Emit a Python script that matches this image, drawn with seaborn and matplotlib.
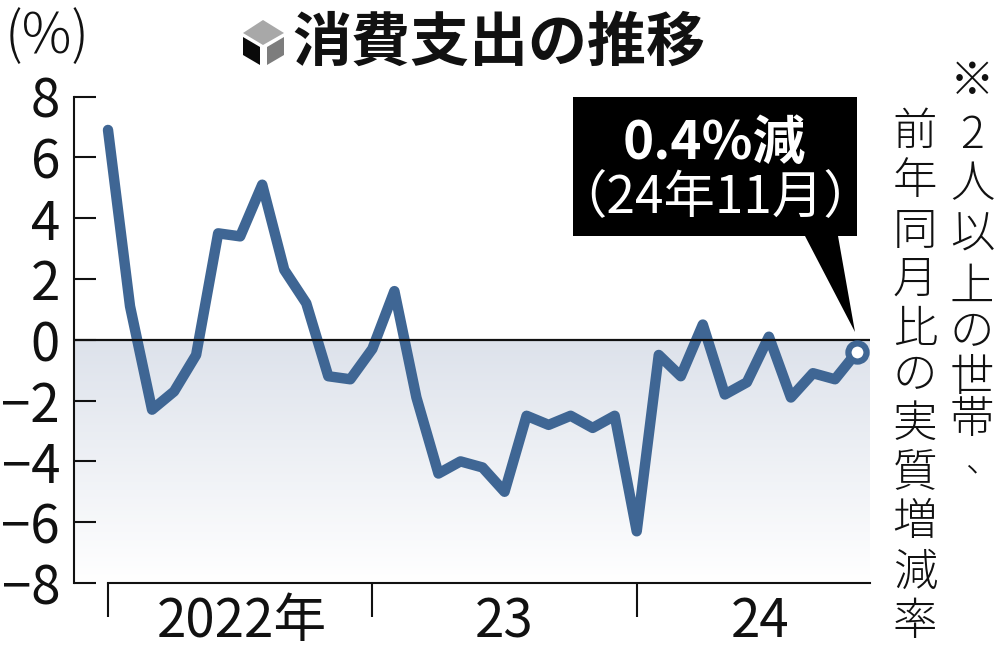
import numpy as np
import pandas as pd
import matplotlib
matplotlib.use("Agg")
import matplotlib.pyplot as plt
import seaborn as sns
from matplotlib.patches import Polygon
from matplotlib.transforms import Affine2D

month_index = list(range(35))
spending = [6.9, 1.1, -2.3, -1.7, -0.5, 3.5, 3.4, 5.1, 2.3, 1.2, -1.2, -1.3,
            -0.3, 1.6, -1.9, -4.4, -4.0, -4.2, -5.0, -2.5, -2.8, -2.5, -2.9, -2.5,
            -6.3, -0.5, -1.2, 0.5, -1.8, -1.4, 0.1, -1.9, -1.1, -1.3, -0.4]
y_ticks = [8, 6, 4, 2, 0, -2, -4, -6, -8]
y_labels = ["8", "6", "4", "2", "0", "−2", "−4", "−6", "−8"]
year_ticks = [0, 12, 24]
year_label_pos = [6.08, 18, 29.6]
year_labels = ["2022年", "23", "24"]
title = "消費支出の推移"
note_right = ["※", "2", "人", "以", "上", "の", "世", "帯"]
note_comma = "、"
note_left = list("前年同月比の実質増減率")

BLUE = "#3f6694"
sns.set_theme(style="white")
plt.rcParams["font.family"] = ["Noto Sans CJK JP", "DejaVu Sans"]

W, H = 1000, 649
fig = plt.figure(figsize=(W / 100, H / 100), dpi=100, facecolor="white")
ax = fig.add_axes([74 / W, 1 - 583 / H, (870 - 74) / W, (583 - 96.5) / H])
df = pd.DataFrame({"month": month_index, "spending": spending})

xlim = ((74 - 108) / 22.03, (870 - 108) / 22.03)
ax.imshow(np.linspace(0, 1, 256).reshape(-1, 1), extent=[xlim[0], xlim[1], -8, 0],
          aspect="auto", origin="upper", zorder=0,
          cmap=matplotlib.colors.LinearSegmentedColormap.from_list("g", ["#dde2eb", "#ffffff"]))
ax.set_xlim(*xlim)
ax.set_ylim(-8, 8)

sns.lineplot(data=df, x="month", y="spending", ax=ax, color=BLUE, linewidth=7.5,
             solid_joinstyle="round", solid_capstyle="round", zorder=3, clip_on=False)
ax.axhline(0, color="#111111", linewidth=1.6, zorder=4)
sns.scatterplot(x=month_index[-1:], y=spending[-1:], ax=ax, s=170, color="white",
                edgecolor=BLUE, linewidth=4.5, zorder=5, clip_on=False)

for s in ["top", "right"]:
    ax.spines[s].set_visible(False)
ax.spines["left"].set_color("#111111")
ax.spines["left"].set_linewidth(1.5)
ax.spines["bottom"].set_color("#111111")
ax.spines["bottom"].set_linewidth(1.5)
ax.spines["bottom"].set_bounds(0, ax.get_xlim()[1])

ax.set_xlabel("")
ax.set_ylabel("")
ax.set_yticks(y_ticks)
ax.set_yticklabels(y_labels, fontsize=38, color="#111111")
ax.tick_params(axis="y", direction="in", length=16, width=1.5, color="#111111", pad=10, left=True)
ax.set_xticks(year_ticks)
ax.set_xticklabels([])
ax.tick_params(axis="x", which="major", direction="out", length=24.5, width=1.5, color="#111111", bottom=True)
ax.set_xticks(year_label_pos, minor=True)
ax.set_xticklabels(year_labels, minor=True, fontsize=38, color="#111111")
ax.tick_params(axis="x", which="minor", length=0, pad=8, bottom=False)

px = Affine2D().scale(1, -1).translate(0, H)
def poly(pts, color, z=6):
    fig.add_artist(Polygon(pts, closed=True, facecolor=color, edgecolor="none", transform=px, zorder=z))
def T(x, y, s, **kw):
    kw.setdefault("color", "#111111")
    fig.text(x / W, 1 - y / H, s, ha="center", va="center", **kw)

T(47, 37, "(%)", fontsize=40, fontweight="light")
T(499, 44, title, fontsize=42.5, fontweight="bold")
# cube icon
poly([(263, 20), (284, 33), (263, 45), (243, 33)], "#a8a8a8")
poly([(243, 37), (260, 47), (260, 65), (243, 55)], "#0a0a0a")
poly([(267, 47), (284, 37), (284, 55), (267, 65)], "#7d7d7d")

# callout
poly([(573, 97), (857, 97), (857, 236), (838, 236), (855, 332), (805, 236), (573, 236)], "#000000")
T(714, 143, "0.4%減", fontsize=38, fontweight="bold", color="white", zorder=7)
T(715, 198, "（24年11月）", fontsize=37, color="white", zorder=7)

# vertical note
right_y = [82, 135, 185, 235, 287, 333, 378, 421]
left_y = [132, 182, 232, 280, 330, 376, 424, 473, 522, 573, 622]
for ch, y in zip(note_right, right_y):
    T(972, y, ch, fontsize=32, fontweight="light")
T(982, 462, note_comma, fontsize=24, fontweight="light")
for ch, y in zip(note_left, left_y):
    T(915, y, ch, fontsize=32, fontweight="light")

fig.savefig("out.png", dpi=100, facecolor="white")
